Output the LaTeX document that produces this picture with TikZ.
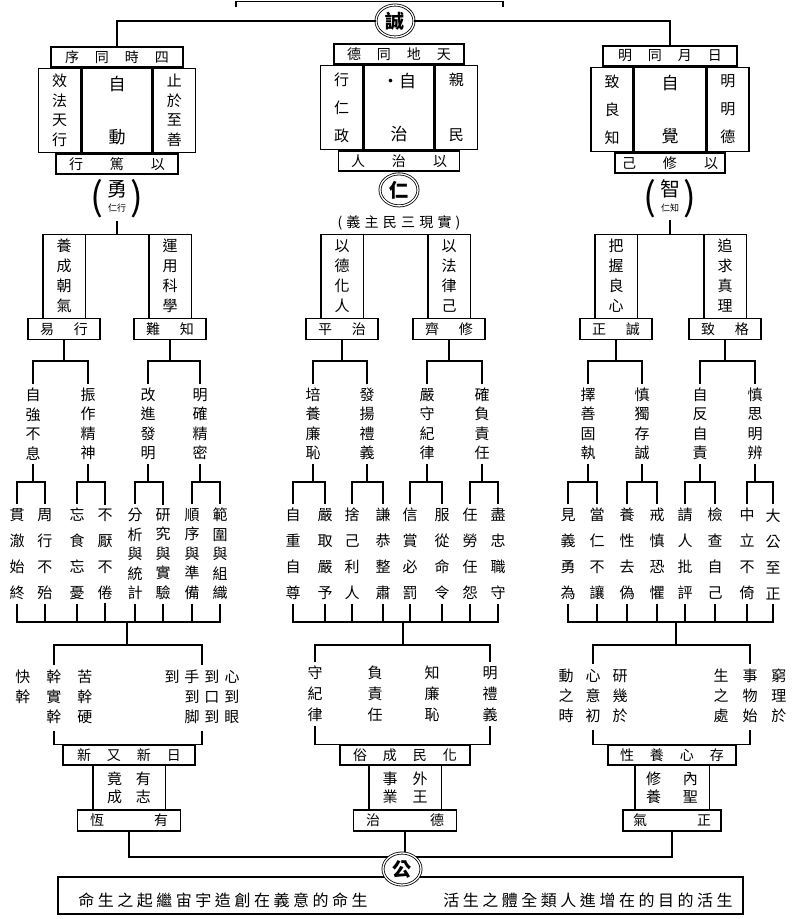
\documentclass[tikz,border=0pt]{standalone}
\usepackage{fontspec}
\setmainfont{Noto Sans CJK TC}
\usetikzlibrary{positioning, calc, shapes.geometric}
\newcommand{\gapl}{\hskip 16pt\relax}
\newcommand{\gapm}{\hskip 20pt\relax}
\newcommand{\gapw}{\hskip 27pt\relax}
\newcommand{\gapx}{\hskip 50pt\relax}
\newcommand{\sides}[1]{\draw[ln] (#1.north west) -- (#1.south west) (#1.north east) -- (#1.south east);}

\begin{document}
\begin{tikzpicture}[
    x=1pt, y=-1pt,
    ln/.style={line width=1.4pt},
    seal/.style={ellipse, draw, line width=0.8pt, double, double distance=1.3pt, fill=white, inner sep=0pt, minimum width=38pt, minimum height=32pt, font=\fontsize{19}{19}\selectfont\bfseries},
    lbl/.style={draw, ln, minimum width=132pt, minimum height=20pt, inner sep=0pt, font=\fontsize{14}{14}\selectfont},
    sbox/.style={draw, ln, minimum width=72pt, minimum height=21pt, inner sep=0pt, font=\fontsize{14}{14}\selectfont},
    cell/.style={draw, ln, minimum width=42pt, minimum height=84pt, inner sep=0pt, align=center, font=\fontsize{15}{28}\selectfont},
    pillar/.style={minimum width=42pt, minimum height=83pt, inner sep=0pt, align=center, font=\fontsize{15}{20}\selectfont},
    col/.style={align=center, inner sep=0pt, outer ysep=4pt, font=\fontsize{15}{19.5}\selectfont},
    colw/.style={col, font=\fontsize{15}{26}\selectfont},
    grp/.style={inner sep=0pt, outer ysep=3pt, font=\fontsize{15}{20}\selectfont},
    virt/.style={inner sep=0pt, outer ysep=3pt, font=\fontsize{20}{20}\selectfont},
    paren/.style={inner sep=0pt, font=\fontsize{38}{38}\selectfont},
    mtxt/.style={inner sep=0pt, font=\fontsize{16}{16}\selectfont\addfontfeature{LetterSpace=22}},
]
\useasboundingbox (0,0) rectangle (793,919);

% levels of the bars
\coordinate (y2) at (0,361);
\coordinate (y3) at (0,482);
\coordinate (y4) at (0,622);
\coordinate (y5) at (0,645);
\coordinate (y6) at (0,857);

% top edge
\coordinate (edge-l) at (236,7);
\coordinate (edge-r) at (503,7);
\draw[ln] (edge-l) -- ++(0,-5.5) -| (edge-r);

% Cheng
\node[seal] (cheng) at (395,21) {誠};

% left block: yong
\node[lbl] (l-top) at (117,57) {序\gapl 同\gapl 時\gapl 四};
\node[cell, minimum width=70pt, below=0pt of l-top, font=\fontsize{17}{17}\selectfont] (l-mid) {自\\[36pt]動};
\node[cell, left=0pt of l-mid, font=\fontsize{15}{19.5}\selectfont] (l-left) {效\\法\\天\\行};
\node[cell, right=0pt of l-mid, font=\fontsize{15}{19.5}\selectfont] (l-right) {止\\於\\至\\善};
\node[lbl, minimum width=122pt, below=0pt of l-mid] (l-bot) {行\gapw 篤\gapw 以};
\node[virt, below=3pt of l-bot] (yong) {\begin{tabular}{@{}c@{}}勇\\[-5pt]{\fontsize{9}{9}\selectfont 仁行}\end{tabular}};
\node[paren, left=3pt of yong] (yong-l) {(};
\node[paren, right=3pt of yong] (yong-r) {)};

% centre block: ren
\node[lbl, minimum width=130pt] (c-top) at (399,54) {德\gapl 同\gapl 地\gapl 天};
\node[cell, minimum width=70pt, below=0pt of c-top, font=\fontsize{17}{17}\selectfont] (c-mid) {·自\\[36pt]治};
\node[cell, left=0pt of c-mid] (c-left) {行\\仁\\政};
\node[cell, right=0pt of c-mid, font=\fontsize{15}{15}\selectfont] (c-right) {親\\[40pt]民};
\node[lbl, minimum width=121pt, below=0pt of c-mid] (c-bot) {人\gapw 治\gapw 以};
\node[seal, below=2pt of c-bot] (ren) {仁};
\node[below=9pt of ren, inner sep=0pt, font=\fontsize{14}{14}\selectfont\addfontfeature{LetterSpace=30}] (sanmin) {(義主民三現實)};

% right block: zhi
\node[lbl, minimum width=134pt] (r-top) at (670,56) {明\gapl 同\gapl 月\gapl 日};
\node[cell, minimum width=71pt, below=0pt of r-top, font=\fontsize{17}{17}\selectfont] (r-mid) {自\\[36pt]覺};
\node[cell, left=0pt of r-mid] (r-left) {致\\良\\知};
\node[cell, right=0pt of r-mid] (r-right) {明\\明\\德};
\node[lbl, minimum width=110pt, below=0pt of r-mid] (r-bot) {己\gapw 修\gapw 以};
\node[virt, below=3pt of r-bot] (zhi) {\begin{tabular}{@{}c@{}}智\\[-5pt]{\fontsize{9}{9}\selectfont 仁知}\end{tabular}};
\node[paren, left=3pt of zhi] (zhi-l) {(};
\node[paren, right=3pt of zhi] (zhi-r) {)};

\draw[ln] (cheng.west) -| (l-top.north);
\draw[ln] (cheng.east) -| (r-top.north);

% pillars
\node[pillar] (l-p1) at (64,276) {養\\成\\朝\\氣};
\node[pillar] (l-p2) at (170,276) {運\\用\\科\\學};
\node[pillar] (c-p1) at (342,276) {以\\德\\化\\人};
\node[pillar] (c-p2) at (449,276) {以\\法\\律\\己};
\node[pillar] (r-p1) at (616,276) {把\\握\\良\\心};
\node[pillar] (r-p2) at (725,276) {追\\求\\真\\理};
\foreach \p in {l-p1,l-p2,c-p1,c-p2,r-p1,r-p2} \sides{\p}
\draw[ln] (l-p1.north west) -- (l-p2.north east);
\draw[ln] (c-p1.north west) -- (c-p2.north east);
\draw[ln] (r-p1.north west) -- (r-p2.north east);
\draw[ln] (yong.south) -- (yong.south |- l-p1.north);
\draw[ln] (zhi.south) -- (zhi.south |- r-p1.north);

\node[sbox, below=0pt of l-p1] (l-yi) {易\gapm 行};
\node[sbox, below=0pt of l-p2] (l-nan) {難\gapm 知};
\node[sbox, below=0pt of c-p1] (c-ping) {平\gapm 治};
\node[sbox, below=0pt of c-p2] (c-qi) {齊\gapm 修};
\node[sbox, below=0pt of r-p1] (r-zc) {正\gapm 誠};
\node[sbox, below=0pt of r-p2] (r-zg) {致\gapm 格};

% second level
\node[col] (l-a) at (33,424) {自\\強\\不\\息};
\node[col] (l-b) at (88,424) {振\\作\\精\\神};
\node[col] (l-c) at (148,424) {改\\進\\發\\明};
\node[col] (l-d) at (200,424) {明\\確\\精\\密};
\node[col] (c-a) at (313,424) {培\\養\\廉\\恥};
\node[col] (c-b) at (367,424) {發\\揚\\禮\\義};
\node[col] (c-c) at (427,424) {嚴\\守\\紀\\律};
\node[col] (c-d) at (482,424) {確\\負\\責\\任};
\node[col] (r-a) at (588,424) {擇\\善\\固\\執};
\node[col] (r-b) at (642,424) {慎\\獨\\存\\誠};
\node[col] (r-c) at (700,424) {自\\反\\自\\責};
\node[col] (r-d) at (755,424) {慎\\思\\明\\辨};

% third level
\node[colw] (l-a1) at (17,554) {貫\\澈\\始\\終};
\node[colw] (l-a2) at (45,554) {周\\行\\不\\殆};
\node[colw] (l-b1) at (77,554) {忘\\食\\忘\\憂};
\node[colw] (l-b2) at (105,554) {不\\厭\\不\\倦};
\node[col] (l-c1) at (135,554) {分\\析\\與\\統\\計};
\node[col] (l-c2) at (163,554) {研\\究\\與\\實\\驗};
\node[col] (l-d1) at (192,554) {順\\序\\與\\準\\備};
\node[col] (l-d2) at (220,554) {範\\圍\\與\\組\\織};
\node[colw] (c-a1) at (293,554) {自\\重\\自\\尊};
\node[colw] (c-a2) at (325,554) {嚴\\取\\嚴\\予};
\node[colw] (c-b1) at (352,554) {捨\\己\\利\\人};
\node[colw] (c-b2) at (383,554) {謙\\恭\\整\\肅};
\node[colw] (c-c1) at (410,554) {信\\賞\\必\\罰};
\node[colw] (c-c2) at (442,554) {服\\從\\命\\令};
\node[colw] (c-d1) at (470,554) {任\\勞\\任\\怨};
\node[colw] (c-d2) at (498,554) {盡\\忠\\職\\守};
\node[colw] (r-a1) at (568,554) {見\\義\\勇\\為};
\node[colw] (r-a2) at (597,554) {當\\仁\\不\\讓};
\node[colw] (r-b1) at (627,554) {養\\性\\去\\偽};
\node[colw] (r-b2) at (657,554) {戒\\慎\\恐\\懼};
\node[colw] (r-c1) at (685,554) {請\\人\\批\\評};
\node[colw] (r-c2) at (715,554) {檢\\查\\自\\己};
\node[colw] (r-d1) at (747,554) {中\\立\\不\\倚};
\node[colw] (r-d2) at (773,554) {大\\公\\至\\正};

\foreach \p/\a/\b in {l-yi/l-a/l-b, l-nan/l-c/l-d, c-ping/c-a/c-b, c-qi/c-c/c-d, r-zc/r-a/r-b, r-zg/r-c/r-d}
  \draw[ln] (\p.south) -- (\p.south |- y2) (\a.north) |- (\p.south |- y2) -| (\b.north);
\foreach \p in {l-a,l-b,l-c,l-d,c-a,c-b,c-c,c-d,r-a,r-b,r-c,r-d}
  \draw[ln] (\p.south) -- (\p.south |- y3) (\p1.north) |- (\p.south |- y3) -| (\p2.north);
\foreach \s in {l,c,r} {
  \draw[ln] (\s-a1.south) |- (\s-d2.south |- y4) -- (\s-d2.south);
  \foreach \n in {a2,b1,b2,c1,c2,d1} \draw[ln] (\s-\n.south) -- (\s-\n.south |- y4);
}

% fourth level
\coordinate (l-j) at (127,622);
\coordinate (c-j) at (403,622);
\coordinate (r-j) at (676,622);
\node[grp] (l-g1) at (54,698) {\begin{tabular}{@{}c@{\hskip16pt}c@{\hskip16pt}c@{}}快&幹&苦\\幹&實&幹\\&幹&硬\end{tabular}};
\node[grp] (l-g2) at (202,698) {\begin{tabular}{@{}c@{\hskip5pt}c@{\hskip5pt}c@{\hskip5pt}c@{}}到&手&到&心\\&到&口&到\\&脚&到&眼\end{tabular}};
\node[col, font=\fontsize{15}{21}\selectfont] (c-e1) at (315,694) {守\\紀\\律};
\node[col, font=\fontsize{15}{21}\selectfont] (c-e2) at (375,694) {負\\責\\任};
\node[col, font=\fontsize{15}{21}\selectfont] (c-e3) at (432,694) {知\\廉\\恥};
\node[col, font=\fontsize{15}{21}\selectfont] (c-e4) at (490,694) {明\\禮\\義};
\node[grp] (r-g1) at (593,697) {\begin{tabular}{@{}c@{\hskip12pt}c@{\hskip12pt}c@{}}動&心&研\\之&意&幾\\時&初&於\end{tabular}};
\node[grp] (r-g2) at (750,697) {\begin{tabular}{@{}c@{\hskip14pt}c@{\hskip14pt}c@{}}生&事&窮\\之&物&理\\處&始&於\end{tabular}};
\draw[ln] (l-j) -- (l-j |- y5) (l-g1.north) |- (l-j |- y5) -| (l-g2.north);
\draw[ln] (c-j) -- (c-j |- y5) (c-e1.north) |- (c-j |- y5) -| (c-e4.north);
\draw[ln] (r-j) -- (r-j |- y5) (r-g1.north) |- (r-j |- y5) -| (r-g2.north);

% bottom boxes
\node[lbl, minimum width=132pt] (l-xin) at (129,755) {新\gapl 又\gapl 新\gapl 日};
\node[lbl, minimum width=130pt] (c-su) at (405,755) {俗\gapl 成\gapl 民\gapl 化};
\node[lbl, minimum width=128pt] (r-cun) at (672,755) {性\gapl 養\gapl 心\gapl 存};
\draw[ln] (l-g1.south) |- (l-xin.north) -| (l-g2.south);
\draw[ln] (c-e1.south) |- (c-su.north) -| (c-e4.south);
\draw[ln] (r-g1.south) |- (r-cun.north) -| (r-g2.south);

\node[pillar, minimum width=72pt, minimum height=43pt, below=0pt of l-xin, font=\fontsize{15}{18}\selectfont] (l-zhi) {竟\hskip14pt\relax 有\\成\hskip14pt\relax 志};
\node[pillar, minimum width=72pt, minimum height=43pt, below=0pt of c-su, font=\fontsize{15}{18}\selectfont] (c-wai) {事\hskip15pt\relax 外\\業\hskip15pt\relax 王};
\node[pillar, minimum width=74pt, minimum height=43pt, below=0pt of r-cun, font=\fontsize{15}{18}\selectfont] (r-xiu) {修\hskip22pt\relax 內\\養\hskip22pt\relax 聖};
\sides{l-zhi} \sides{c-wai} \sides{r-xiu}
\node[sbox, minimum width=103pt, below=0pt of l-zhi] (l-heng) {恆\gapx 有};
\node[sbox, minimum width=103pt, below=0pt of c-wai] (c-de) {治\gapx 德};
\node[sbox, minimum width=98pt, below=0pt of r-xiu] (r-qi) {氣\gapx 正};

\draw[ln] (l-heng.south) |- (r-qi.south |- y6) -- (r-qi.south);
\draw[ln] (c-de.south) -- (c-de.south |- y6);

% motto
\node[draw, ln, minimum width=685pt, minimum height=37pt, inner sep=0pt] (motto) at (400.5,895.5) {};
\node[seal] (gong) at (402,869) {公};
\node[mtxt] (motto-l) at (223,900) {命生之起繼宙宇造創在義意的命生};
\node[mtxt] (motto-r) at (588,900) {活生之體全類人進增在的目的活生};
\end{tikzpicture}
\end{document}
